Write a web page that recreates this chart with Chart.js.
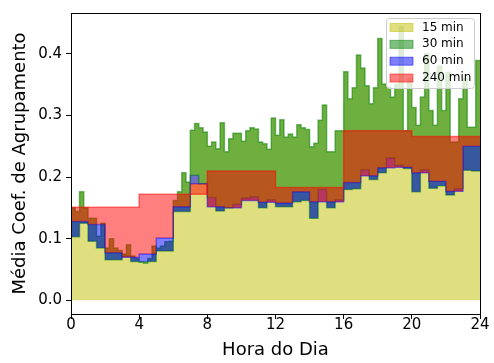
<!DOCTYPE html>
<html>
<head>
<meta charset="utf-8">
<script src="https://cdn.jsdelivr.net/npm/chart.js@4.4.0/dist/chart.umd.min.js"></script>
<style>
  html, body { margin: 0; padding: 0; background: #fff; }
</style>
</head>
<body>
<canvas id="chart" width="494" height="363"></canvas>
<script>
// Mean clustering coefficient by hour of day, one array per window size
const seriesLabels = ['15 min', '30 min', '60 min', '240 min'];
const hourTicks = [0, 4, 8, 12, 16, 20, 24];
const coefTicks = [0, 0.1, 0.2, 0.3, 0.4];

// 96 quarter-hour bins
const coef15 = [
  0.150, 0.144, 0.176, 0.150,
  0.133, 0.133, 0.104, 0.125,
  0.085, 0.100, 0.085, 0.081,
  0.075, 0.090, 0.072, 0.068,
  0.062, 0.060, 0.068, 0.088,
  0.085, 0.088, 0.095, 0.096,
  0.162, 0.176, 0.207, 0.192,
  0.276, 0.287, 0.280, 0.273,
  0.250, 0.257, 0.246, 0.288,
  0.241, 0.262, 0.271, 0.271,
  0.258, 0.275, 0.280, 0.278,
  0.257, 0.254, 0.245, 0.296,
  0.268, 0.293, 0.265, 0.270,
  0.265, 0.285, 0.280, 0.277,
  0.249, 0.255, 0.292, 0.317,
  0.241, 0.241, 0.275, 0.275,
  0.371, 0.327, 0.345, 0.398,
  0.377, 0.348, 0.319, 0.345,
  0.425, 0.351, 0.346, 0.330,
  0.350, 0.444, 0.275, 0.360,
  0.313, 0.284, 0.330, 0.400,
  0.308, 0.284, 0.380, 0.308,
  0.370, 0.257, 0.257, 0.327,
  0.360, 0.281, 0.281, 0.389
];

// 48 half-hour bins
const coef30 = [
  0.103, 0.125, 0.096, 0.085, 0.066, 0.066, 0.072, 0.063,
  0.062, 0.063, 0.080, 0.080, 0.144, 0.144, 0.203, 0.189,
  0.167, 0.145, 0.150, 0.156, 0.166, 0.168, 0.150, 0.163,
  0.152, 0.152, 0.160, 0.162, 0.133, 0.180, 0.150, 0.163,
  0.180, 0.181, 0.212, 0.196, 0.207, 0.231, 0.219, 0.214,
  0.176, 0.212, 0.182, 0.186, 0.171, 0.181, 0.211, 0.210
];

// 24 hourly bins
const coef60 = [
  0.128, 0.123, 0.077, 0.070, 0.075, 0.101, 0.152, 0.189,
  0.152, 0.150, 0.162, 0.159, 0.158, 0.176, 0.160, 0.160,
  0.191, 0.202, 0.215, 0.216, 0.207, 0.193, 0.177, 0.250
];

// 6 four-hour bins
const coef240 = [0.151, 0.172, 0.210, 0.183, 0.275, 0.266];

const seriesValues = [coef15, coef30, coef60, coef240];
const rgb = ['191,191,0', '0,128,0', '0,0,255', '255,0,0'];

// spread a series over the quarter-hour grid so every band shares the same x points
function toPoints(values) {
  const per = 96 / values.length;
  const pts = [];
  for (let i = 0; i < 96; i++) {
    pts.push({ x: i / 4, y: values[Math.floor(i / per)] });
  }
  pts.push({ x: 24, y: values[values.length - 1] });
  return pts;
}

// each band is filled against the previous series, the first one down to zero
const datasets = seriesValues.map((vals, i) => ({
  label: seriesLabels[i],
  data: toPoints(vals),
  stepped: true,
  fill: i === 0 ? 'origin' : '-1',
  backgroundColor: 'rgba(' + rgb[i] + ',0.5)',
  // top edge of the 15 min area is also the edge of the 30 min band
  borderColor: 'rgba(' + (i === 0 ? rgb[1] : rgb[i]) + ',0.5)',
  borderWidth: 1.5,
  pointRadius: 0,
  order: 4 - i
}));

const frame = {
  id: 'frame',
  afterDatasetsDraw(chart) {
    const { ctx, chartArea: a } = chart;
    ctx.save();
    ctx.strokeStyle = '#000';
    ctx.lineWidth = 1;
    ctx.strokeRect(a.left + 0.5, a.top + 0.5, a.right - a.left, a.bottom - a.top);
    ctx.restore();
  }
};

const legendBox = {
  id: 'legendBox',
  afterDraw(chart) {
    const { ctx, chartArea: a } = chart;
    const w = 88, h = 70;
    const x0 = a.right - 6 - w, y0 = a.top + 5;
    ctx.save();
    ctx.beginPath();
    ctx.roundRect(x0 + 0.5, y0 + 0.5, w, h, 3);
    ctx.fillStyle = 'rgba(255,255,255,0.8)';
    ctx.fill();
    ctx.strokeStyle = '#cccccc';
    ctx.lineWidth = 1;
    ctx.stroke();
    ctx.font = '12px "DejaVu Sans"';
    ctx.textBaseline = 'middle';
    ctx.textAlign = 'left';
    chart.data.datasets.forEach((ds, i) => {
      const cy = y0 + 9.5 + i * 16.85;
      ctx.fillStyle = ds.backgroundColor;
      ctx.fillRect(x0 + 4, cy - 4, 23, 8);
      ctx.strokeStyle = 'rgba(' + rgb[i] + ',0.5)';
      ctx.strokeRect(x0 + 4, cy - 4, 23, 8);
      ctx.fillStyle = '#000';
      ctx.fillText(ds.label, x0 + 36, cy);
    });
    ctx.restore();
  }
};

Chart.defaults.font.family = '"DejaVu Sans"';
Chart.defaults.color = '#000';

new Chart(document.getElementById('chart'), {
  type: 'line',
  data: { datasets: datasets },
  options: {
    responsive: false,
    animation: false,
    layout: { padding: { top: 10, right: 14, left: 0, bottom: 0 } },
    plugins: {
      legend: { display: false },
      tooltip: { enabled: false }
    },
    scales: {
      x: {
        type: 'linear',
        min: 0,
        max: 24,
        afterBuildTicks: (s) => { s.ticks = hourTicks.map(v => ({ value: v })); },
        afterFit: (s) => { s.height = 49; },
        grid: { drawOnChartArea: false, color: '#000', tickLength: 5, tickWidth: 1 },
        border: { display: false },
        ticks: { font: { size: 15, lineHeight: 1 }, padding: -1, maxRotation: 0, autoSkip: false },
        title: { display: true, text: 'Hora do Dia', font: { size: 18 }, padding: { top: 0, bottom: 2 } }
      },
      y: {
        type: 'linear',
        min: -0.0222,
        max: 0.4662,
        afterBuildTicks: (s) => { s.ticks = coefTicks.map(v => ({ value: v })); },
        afterFit: (s) => { s.width = 71; },
        grid: { drawOnChartArea: false, color: '#000', tickLength: 5, tickWidth: 1 },
        border: { display: false },
        ticks: { font: { size: 15 }, padding: 4, callback: (v) => v.toFixed(1) },
        title: { display: true, text: 'Média Coef. de Agrupamento', font: { size: 18 }, padding: { top: 10, bottom: 0 } }
      }
    }
  },
  plugins: [frame, legendBox]
});
</script>
</body>
</html>
